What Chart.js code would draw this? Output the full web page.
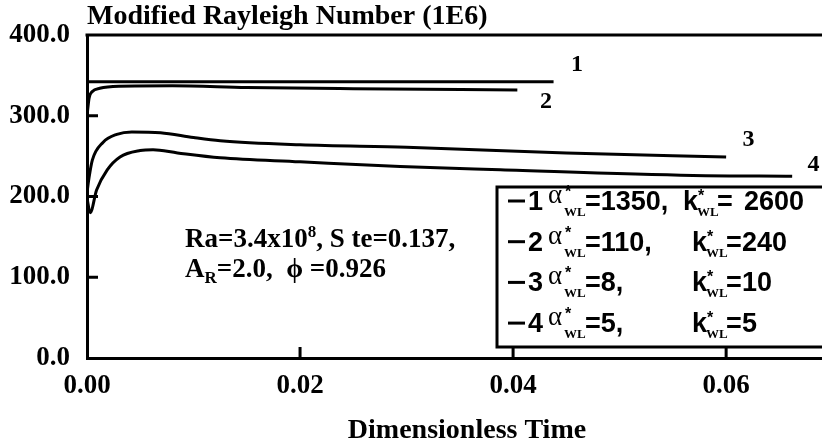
<!DOCTYPE html>
<html lang="en">
<head>
  <meta charset="UTF-8">
  <title>Modified Rayleigh Number vs Dimensionless Time</title>
  <style>
    body {
      margin: 0;
      background: #fff;
    }
    #wrap {
      width: 822px;
      height: 445px;
    }
  </style>
</head>
<body>
  <div id="wrap"><canvas id="raChart" width="822" height="445"></canvas></div>

  <script src="https://cdn.jsdelivr.net/npm/chart.js"></script>
  <script>
    // Modified Rayleigh number (1E6) against dimensionless time, one pair of arrays per case
    const time1 = [0, 0.0438];
    const ra1 = [342, 342];

    const time2 = [0, 0.0002, 0.0005, 0.0012, 0.003, 0.008, 0.015, 0.025, 0.0404];
    const ra2 = [300, 322, 330, 334, 336.5, 337, 335, 333.5, 332];

    const time3 = [0, 0.0002, 0.0005, 0.0015, 0.0028, 0.0042, 0.0069, 0.010, 0.0125, 0.020, 0.030, 0.045, 0.060];
    const ra3 = [205, 224, 245, 267, 277, 280, 279, 273, 269, 264, 261, 254, 249];

    const time4 = [0, 0.0003, 0.0009, 0.0019, 0.0031, 0.0050, 0.0062, 0.0085, 0.0125, 0.020, 0.0294, 0.0388, 0.0569, 0.0662];
    const ra4 = [198, 180, 208, 233, 249, 257, 258, 254, 248, 243, 237, 233, 226, 225];

    // axis ticks
    const xTicks = [0, 0.02, 0.04, 0.06];
    const yTicks = [0, 100, 200, 300, 400];

    // case numbers written next to the curve ends (time, Ra)
    const caseNames = ['1', '2', '3', '4'];
    const caseNameTime = [0.0460, 0.0431, 0.0621, 0.0682];
    const caseNameRa = [363, 317, 270, 239];

    // wall parameters listed in the key
    const alphaWL = ['1350', '110', '8', '5'];
    const kWL = ['2600', '240', '10', '5'];

    const SERIF = '"Liberation Serif", "Times New Roman", serif';
    const SANS = '"Liberation Sans", Arial, sans-serif';

    function toPoints(ts, vs) {
      return ts.map((t, i) => ({ x: t, y: vs[i] }));
    }

    function curve(ts, vs) {
      return {
        data: toPoints(ts, vs),
        borderColor: '#000',
        borderWidth: 3,
        pointRadius: 0,
        fill: false,
        cubicInterpolationMode: 'monotone'
      };
    }

    const extras = {
      id: 'extras',
      afterDraw(chart) {
        const { ctx, chartArea: a, scales: { x, y } } = chart;
        ctx.save();
        ctx.strokeStyle = '#000';
        ctx.fillStyle = '#000';
        ctx.lineWidth = 3;

        // top frame line
        ctx.beginPath();
        ctx.moveTo(a.left - 1.5, a.top);
        ctx.lineTo(a.right, a.top);
        ctx.stroke();

        // tick marks pointing into the plot
        ctx.beginPath();
        x.ticks.forEach(t => {
          if (t.value === 0) return;
          const px = x.getPixelForValue(t.value);
          ctx.moveTo(px, a.bottom);
          ctx.lineTo(px, a.bottom - 11);
        });
        y.ticks.forEach(t => {
          if (t.value === 0 || t.value === 400) return;
          const py = y.getPixelForValue(t.value);
          ctx.moveTo(a.left, py);
          ctx.lineTo(a.left + 11, py);
        });
        ctx.stroke();

        // title over the plot and the time axis title
        ctx.textBaseline = 'alphabetic';
        ctx.textAlign = 'left';
        ctx.font = 'bold 28px ' + SERIF;
        ctx.fillText('Modified Rayleigh Number (1E6)', a.left, 24);
        ctx.textAlign = 'center';
        ctx.fillText('Dimensionless Time', 467, 438);

        // case numbers
        ctx.font = 'bold 24px ' + SERIF;
        ctx.textBaseline = 'middle';
        caseNames.forEach((n, i) => {
          ctx.fillText(n, x.getPixelForValue(caseNameTime[i]), y.getPixelForValue(caseNameRa[i]));
        });

        // run parameters
        ctx.textAlign = 'left';
        ctx.textBaseline = 'alphabetic';
        let cx = 185;
        ctx.font = 'bold 27px ' + SERIF;
        ctx.fillText('Ra=3.4x10', cx, 247);
        cx += ctx.measureText('Ra=3.4x10').width;
        ctx.font = 'bold 17px ' + SERIF;
        ctx.fillText('8', cx, 237);
        cx += ctx.measureText('8').width;
        ctx.font = 'bold 27px ' + SERIF;
        ctx.fillText(', S te=0.137,', cx, 247);

        cx = 185;
        ctx.fillText('A', cx, 277);
        cx += ctx.measureText('A').width;
        ctx.font = 'bold 17px ' + SERIF;
        ctx.fillText('R', cx, 283);
        cx += ctx.measureText('R').width;
        ctx.font = 'bold 27px ' + SERIF;
        ctx.fillText('=2.0,  \u03D5 =0.926', cx, 277);

        // key box
        const kl = 497, kt = 187, kb = 347, kr = 840;
        ctx.fillStyle = '#fff';
        ctx.fillRect(kl, kt, kr - kl, kb - kt);
        ctx.strokeRect(kl, kt, kr - kl, kb - kt);
        ctx.fillStyle = '#000';

        alphaWL.forEach((av, i) => {
          const b = 210 + 40.7 * i;
          // line sample and case number
          ctx.beginPath();
          ctx.moveTo(508, b - 9);
          ctx.lineTo(525, b - 9);
          ctx.stroke();
          ctx.font = 'bold 27px ' + SANS;
          ctx.fillText(String(i + 1), 528, b);

          ctx.font = '27px ' + SERIF;
          ctx.fillText('\u03B1', 548, b - 7);
          ctx.font = 'bold 16px ' + SANS;
          ctx.fillText('*', 565, b - 13);
          ctx.font = 'bold 13px ' + SERIF;
          ctx.fillText('WL', 564, b + 6);

          ctx.font = 'bold 27px ' + SANS;
          ctx.fillText('=' + av + ',', 585, b);

          const kx = i === 0 ? 683 : 692;
          ctx.fillText('k', kx, b);
          ctx.font = 'bold 16px ' + SANS;
          ctx.fillText('*', kx + 15, b - 9);
          ctx.font = 'bold 13px ' + SERIF;
          ctx.fillText('WL', kx + 14, b + 6);
          ctx.font = 'bold 27px ' + SANS;
          ctx.fillText('=', kx + 34, b);
          ctx.fillText(kWL[i], i === 0 ? 744 : kx + 50, b);
        });

        ctx.restore();
      }
    };

    new Chart(document.getElementById('raChart'), {
      type: 'line',
      data: {
        datasets: [
          curve(time1, ra1),
          curve(time2, ra2),
          curve(time3, ra3),
          curve(time4, ra4)
        ]
      },
      options: {
        responsive: false,
        animation: false,
        devicePixelRatio: 1,
        layout: { padding: { top: 35, left: 0, right: 0, bottom: 0 } },
        plugins: {
          legend: { display: false },
          tooltip: { enabled: false }
        },
        scales: {
          x: {
            type: 'linear',
            min: 0,
            max: 0.069,
            afterBuildTicks: s => { s.ticks = xTicks.map(v => ({ value: v })); },
            afterFit: s => { s.height = 87; },
            grid: { display: false, drawTicks: false },
            border: { display: true, color: '#000', width: 3 },
            ticks: {
              color: '#000',
              padding: 12,
              maxRotation: 0,
              autoSkip: false,
              font: { family: SERIF, size: 27, weight: 'bold' },
              callback: v => v.toFixed(2)
            }
          },
          y: {
            min: 0,
            max: 400,
            afterBuildTicks: s => { s.ticks = yTicks.map(v => ({ value: v })); },
            afterFit: s => { s.width = 87; },
            grid: { display: false, drawTicks: false },
            border: { display: true, color: '#000', width: 3 },
            ticks: {
              color: '#000',
              padding: 17,
              font: { family: SERIF, size: 27, weight: 'bold' },
              callback: v => v.toFixed(1)
            }
          }
        }
      },
      plugins: [extras]
    });
  </script>
</body>
</html>
